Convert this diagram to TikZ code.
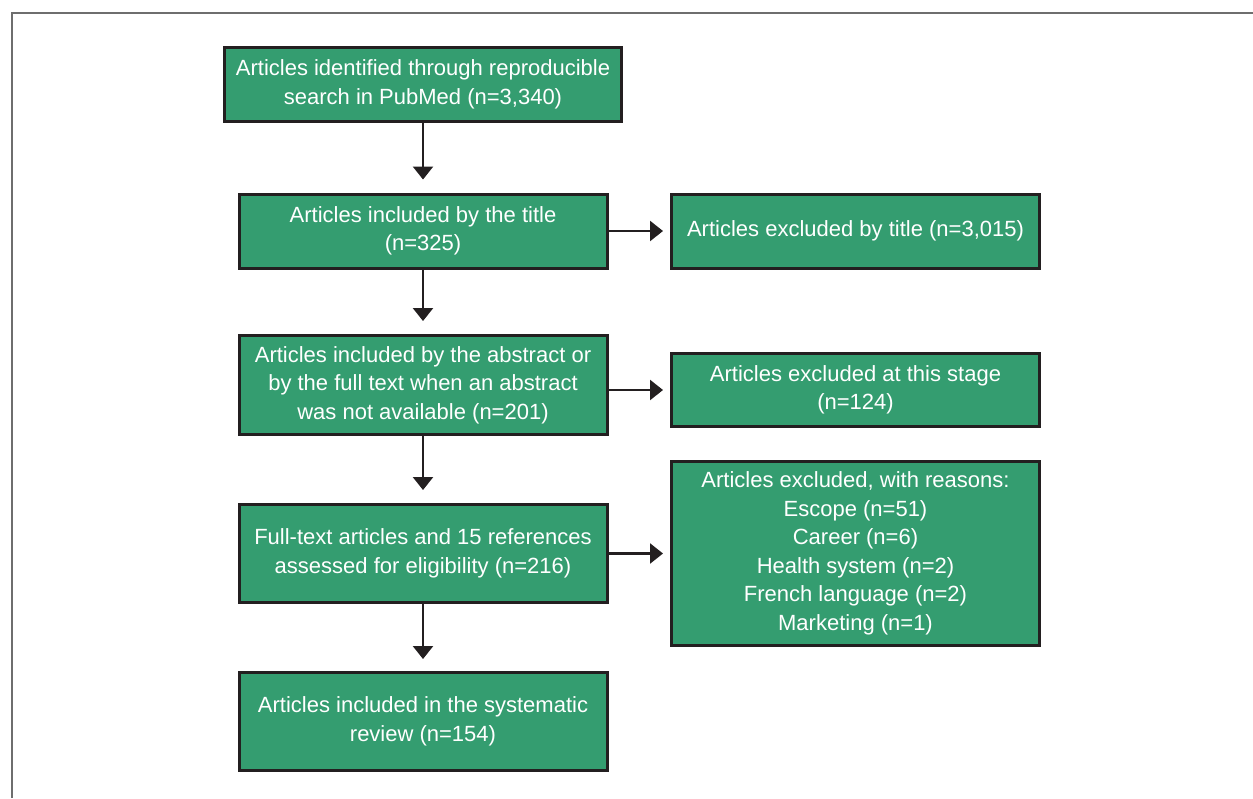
\documentclass[tikz,border=0pt]{standalone}
\usepackage{fontspec}
\setmainfont{Liberation Sans}
\usetikzlibrary{arrows.meta}

\definecolor{boxgreen}{RGB}{52,157,112}
\definecolor{boxline}{RGB}{35,31,32}
\definecolor{framegray}{RGB}{110,110,110}

\tikzset{
  stagebox/.style={draw=boxline, line width=3pt, fill=boxgreen, text=white,
    align=center, inner sep=0pt, minimum width=368pt,
    font=\fontsize{22}{28.5}\selectfont},
  flowarrow/.style={line width=2.5pt, draw=boxline,
    -{Triangle[width=20pt,length=13pt]}}
}

\begin{document}
\begin{tikzpicture}[x=1pt,y=-1pt]

\useasboundingbox (0,0) rectangle (1253,798);

% frame
\draw[framegray, line width=2pt] (12,798) -- (12,13) -- (1253,13);

% main column
\node[stagebox, minimum width=397pt, minimum height=74pt] (search) at (423,84.5)
  {Articles identified through reproducible\\search in PubMed (n=3,340)};
\node[stagebox, minimum height=74pt] (title) at (423,231)
  {Articles included by the title\\(n=325)};
\node[stagebox, minimum height=99pt] (abstract) at (423,385)
  {Articles included by the abstract or\\by the full text when an abstract\\was not available (n=201)};
\node[stagebox, minimum height=98pt] (fulltext) at (423,553.5)
  {Full-text articles and 15 references\\assessed for eligibility (n=216)};
\node[stagebox, minimum height=98pt] (review) at (423,721.5)
  {Articles included in the systematic\\review (n=154)};

% exclusions
\node[stagebox, minimum height=74pt] (extitle) at (855.5,231)
  {Articles excluded by title (n=3,015)};
\node[stagebox, minimum height=73pt] (exstage) at (855.5,390)
  {Articles excluded at this stage\\(n=124)};
\node[stagebox, minimum height=184pt] (exreasons) at (855.5,553.5)
  {Articles excluded, with reasons:\\Escope (n=51)\\Career (n=6)\\Health system (n=2)\\French language (n=2)\\Marketing (n=1)};

% arrows down
\draw[flowarrow, shorten >=13pt] (search.south) -- (search.south |- title.north);
\draw[flowarrow, shorten >=13pt] (title.south) -- (abstract.north);
\draw[flowarrow, shorten >=13pt] (abstract.south) -- (fulltext.north);
\draw[flowarrow, shorten >=12pt] (fulltext.south) -- (review.north);

% arrows right
\draw[flowarrow, shorten >=7pt] (title.east) -- (extitle.west);
\draw[flowarrow, shorten >=7pt] (abstract.east |- exstage.west) -- (exstage.west);
\draw[flowarrow, shorten >=7pt] (fulltext.east) -- (exreasons.west);

\end{tikzpicture}
\end{document}
